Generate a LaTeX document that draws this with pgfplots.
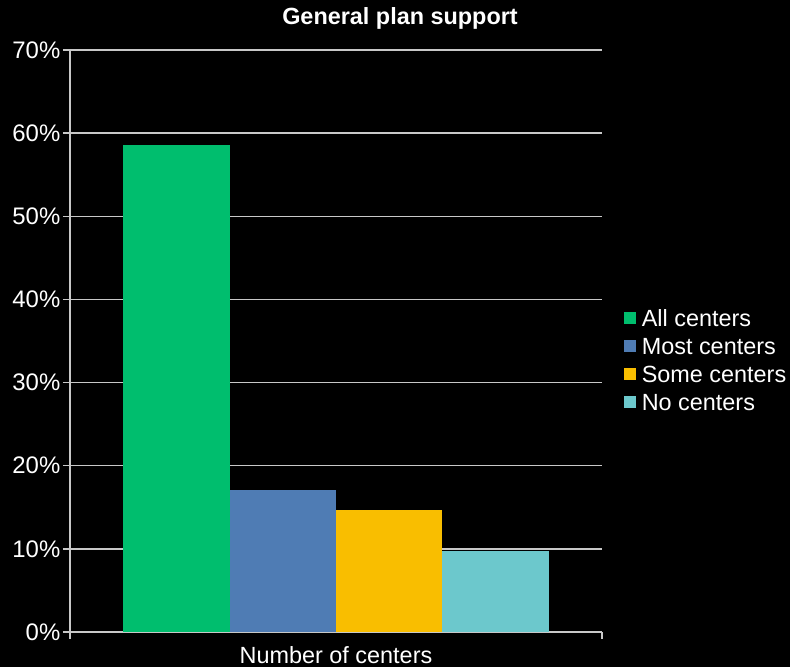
\documentclass[border=0pt]{standalone}
\usepackage{pgfplots}
\pgfplotsset{compat=1.18}
\usepackage{fontspec}
\setmainfont{Liberation Sans}
\definecolor{cgreen}{RGB}{0,190,110}
\definecolor{cblue}{RGB}{79,124,180}
\definecolor{cyellow}{RGB}{249,190,0}
\definecolor{ccyan}{RGB}{108,200,204}
\definecolor{cgrid}{RGB}{200,200,200}
\begin{document}
\begin{tikzpicture}
\fill[black] (0,0) rectangle (790bp,667bp);
\useasboundingbox (0,0) rectangle (790bp,667bp);
\begin{axis}[
  at={(70bp,35bp)}, anchor=south west,
  scale only axis, width=532bp, height=582bp,
  xmin=-1, xmax=1, ymin=0, ymax=70,
  axis lines*=left,
  axis line style={cgrid, line width=1.3bp},
  ytick={0,10,...,70},
  yticklabels={0\%,10\%,20\%,30\%,40\%,50\%,60\%,70\%},
  xtick={-1,1}, xticklabels={},
  tick align=outside, major tick length=7bp,
  tick style={cgrid, line width=1.3bp},
  ymajorgrids, grid style={cgrid, line width=1.3bp},
  yticklabel style={font=\fontsize{24}{26}\selectfont, text=white, inner sep=2.5bp},
  xlabel={Number of centers},
  xlabel style={font=\fontsize{23.5}{25}\selectfont, text=white, at={(axis description cs:0.5,0)}, anchor=center, yshift=-23bp},
  ybar, bar width=0.4, bar shift=0pt,
  every axis plot/.append style={draw=none},
  legend image code/.code={\fill[#1] (0bp,-1bp) rectangle (12bp,11bp);},
  legend cell align=left,
  legend style={at={(axis description cs:1.035,0.458)}, anchor=west, draw=none, fill=none, text=white,
    font=\fontsize{23.5}{25}\selectfont, row sep=0bp,
    nodes={inner sep=0bp, text height=17bp, text depth=11bp},
    /tikz/every odd column/.append style={column sep=6bp}},
]
\addplot[fill=cgreen] coordinates {(-0.6,58.6)};
\addlegendentry{All centers}
\addplot[fill=cblue] coordinates {(-0.2,17.1)};
\addlegendentry{Most centers}
\addplot[fill=cyellow] coordinates {(0.2,14.7)};
\addlegendentry{Some centers}
\addplot[fill=ccyan] coordinates {(0.6,9.8)};
\addlegendentry{No centers}
\end{axis}
\node[text=white, font=\bfseries\fontsize{23.5}{26}\selectfont, anchor=base] at (400bp,642bp) {General plan support};
\end{tikzpicture}
\end{document}
